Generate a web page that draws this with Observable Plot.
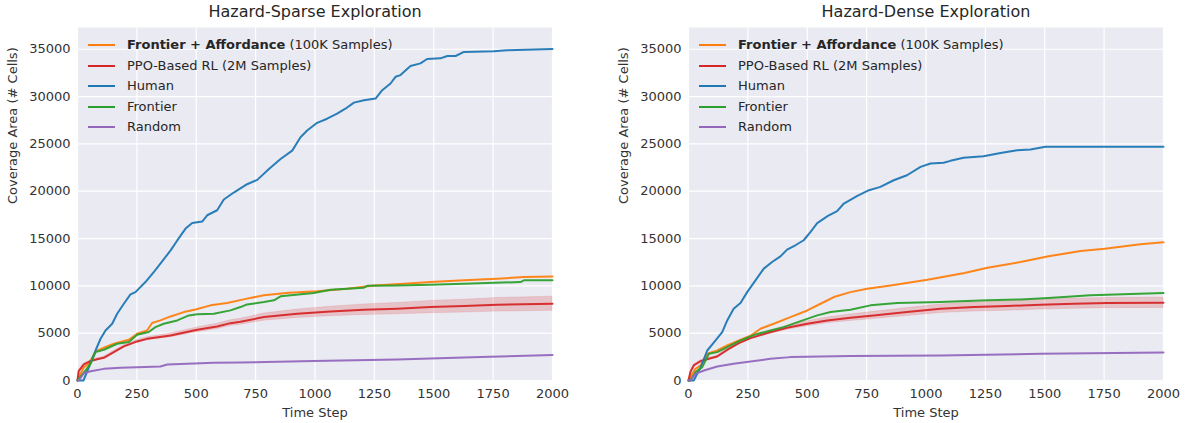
<!DOCTYPE html>
<html>
<head>
<meta charset="utf-8">
<script src="https://cdn.jsdelivr.net/npm/d3@7"></script>
<script src="https://cdn.jsdelivr.net/npm/@observablehq/plot@0.6"></script>
<style>
  body { margin: 0; background: white; font-family: "DejaVu Sans", sans-serif; }
  #wrap { display: flex; width: 1186px; height: 423px; }
  .panel { position: relative; }
  .legend { position: absolute; font-size: 13px; color: #262626; }
  .legend .row { position: absolute; white-space: nowrap; height: 20px; line-height: 20px; }
  .legend .sw { position: absolute; top: 9px; width: 27px; height: 2px; }
  .legend .tx { position: absolute; left: 39px; }
</style>
</head>
<body>
<div id="wrap"></div>
<script>
// ---------- data (time step, coverage cells) ----------
const titles = ["Hazard-Sparse Exploration", "Hazard-Dense Exploration"];
const seriesNames = ["Frontier + Affordance", "PPO-Based RL", "Human", "Frontier", "Random"];
const seriesColors = ["#ff7f0e", "#d62728", "#1f77b4", "#2ca02c", "#9467bd"];
const xTicks = [0, 250, 500, 750, 1000, 1250, 1500, 1750, 2000];
const yTicks = [0, 5000, 10000, 15000, 20000, 25000, 30000, 35000];

// Hazard-Sparse
const sparseAfford = [[0,0],[5,350],[27,1400],[48,1770],[76,3070],[111,3460],[153,3880],[216,4300],[251,4940],[293,5290],[314,6070],[349,6350],[392,6770],[448,7230],[497,7510],[560,7940],[630,8180],[714,8650],[785,9000],[890,9280],[1009,9420],[1135,9700],[1248,10050],[1374,10230],[1486,10400],[1627,10580],[1767,10760],[1879,10930],[2000,11000]];
const sparsePPO = [[0,0],[5,1000],[27,1700],[55,2050],[83,2250],[111,2400],[153,3000],[195,3600],[251,4130],[293,4400],[392,4760],[504,5360],[588,5710],[644,6060],[686,6200],[785,6700],[925,7050],[1065,7300],[1206,7480],[1346,7590],[1486,7760],[1627,7860],[1767,8000],[2000,8110]];
const sparsePPOSpread = [0,80,100,100,100,110,120,130,150,160,200,250,280,300,320,380,440,500,560,600,650,680,720,750];
const sparseHuman = [[0,0],[25,0],[48,1400],[76,3170],[97,4410],[118,5290],[146,6000],[167,7060],[195,8110],[223,9100],[244,9340],[286,10400],[321,11460],[349,12340],[392,13750],[420,14800],[455,16050],[483,16640],[525,16800],[546,17460],[588,17990],[616,19120],[658,19860],[714,20740],[757,21200],[806,22340],[855,23400],[904,24290],[939,25710],[967,26420],[1009,27230],[1051,27660],[1093,28190],[1128,28720],[1164,29360],[1206,29610],[1255,29790],[1283,30670],[1318,31380],[1339,32090],[1360,32270],[1402,33230],[1444,33510],[1472,33970],[1528,34040],[1557,34290],[1592,34290],[1627,34720],[1753,34790],[1809,34890],[2000,35030]];
const sparseFrontier = [[0,0],[5,180],[34,1060],[55,1770],[76,3000],[111,3250],[167,3880],[216,4060],[251,4830],[300,5120],[328,5640],[363,6000],[420,6350],[469,6880],[504,6990],[574,7060],[644,7410],[686,7760],[714,8040],[785,8290],[827,8470],[855,8890],[995,9240],[1065,9600],[1206,9810],[1220,10000],[1346,10050],[1486,10130],[1627,10230],[1865,10400],[1880,10580],[2000,10600]];
const sparseRandom = [[0,0],[5,0],[27,770],[55,980],[111,1230],[181,1340],[251,1410],[349,1480],[378,1690],[462,1760],[574,1870],[686,1910],[995,2050],[1346,2220],[1697,2470],[2000,2700]];

// Hazard-Dense
const denseAfford = [[0,0],[8,350],[29,1230],[51,1590],[79,2820],[121,3170],[163,3700],[212,4230],[261,4730],[303,5470],[359,6000],[429,6700],[500,7400],[556,8110],[612,8820],[682,9340],[752,9700],[851,10050],[1006,10650],[1162,11360],[1259,11920],[1398,12520],[1516,13120],[1651,13680],[1752,13930],[1903,14390],[2000,14600]];
const densePPO = [[0,0],[8,880],[22,1590],[51,2050],[86,2290],[121,2540],[163,3240],[212,3950],[261,4480],[331,5010],[415,5570],[500,6000],[584,6350],[682,6630],[780,6880],[920,7230],[1061,7580],[1201,7760],[1342,7870],[1482,8010],[1623,8110],[1763,8180],[2000,8220]];
const densePPOSpread = [0,60,80,100,100,110,120,140,160,180,220,260,300,340,380,420,450,480,500,520,530,540,550];
const denseHuman = [[0,0],[22,0],[51,1400],[79,3170],[114,4230],[142,5110],[163,6350],[190,7580],[219,8180],[247,9340],[282,10580],[317,11820],[352,12520],[387,13120],[415,13830],[450,14290],[485,14820],[514,15700],[542,16630],[587,17400],[626,17900],[654,18700],[711,19500],[760,20110],[808,20460],[864,21160],[920,21690],[977,22570],[1019,22930],[1074,23000],[1103,23210],[1158,23530],[1242,23700],[1314,24050],[1384,24340],[1440,24410],[1503,24690],[2000,24690]];
const denseFrontier = [[0,0],[8,0],[29,880],[58,1410],[86,2820],[121,3000],[163,3520],[219,4230],[282,4870],[345,5290],[401,5640],[472,6280],[542,6880],[598,7230],[682,7480],[766,7940],[878,8180],[1061,8290],[1259,8470],[1398,8570],[1516,8710],[1693,9000],[2000,9240]];
const denseRandom = [[0,0],[8,0],[29,700],[65,1060],[121,1480],[190,1770],[261,2010],[345,2290],[429,2470],[556,2540],[682,2600],[1061,2650],[1482,2820],[2000,2960]];

// ---------- build ----------
const panels = [
  {afford: sparseAfford, ppo: sparsePPO, spread: sparsePPOSpread, human: sparseHuman, frontier: sparseFrontier, random: sparseRandom, marginLeft: 77, marginRight: 41},
  {afford: denseAfford, ppo: densePPO, spread: densePPOSpread, human: denseHuman, frontier: denseFrontier, random: denseRandom, marginLeft: 95, marginRight: 23}
];

const wrap = document.getElementById("wrap");
const W = 593, H = 423, MT = 27, MB = 43;

panels.forEach((p, i) => {
  const band = p.ppo.map(([t, v], k) => ({t, lo: Math.max(0, v - p.spread[k]), hi: v + p.spread[k]}));
  const lines = [p.afford, p.ppo, p.human, p.frontier, p.random];
  const chart = Plot.plot({
    width: W, height: H,
    marginLeft: p.marginLeft, marginRight: p.marginRight, marginTop: MT, marginBottom: MB,
    style: {background: "white", fontFamily: "DejaVu Sans", fontSize: "13px", color: "#333", overflow: "visible"},
    x: {domain: [0, 2000]},
    y: {domain: [0, 37300]},
    marks: [
      Plot.frame({fill: "#eaeaf2", stroke: null}),
      Plot.gridX(xTicks, {stroke: "white", strokeOpacity: 1, strokeWidth: 1.2}),
      Plot.gridY(yTicks, {stroke: "white", strokeOpacity: 1, strokeWidth: 1.2}),
      Plot.axisX({ticks: xTicks, tickSize: 0, tickPadding: 8, tickFormat: d => String(d), label: null, fontSize: 13}),
      Plot.axisY({ticks: yTicks, tickSize: 0, tickPadding: 7, tickFormat: d => String(d), label: null, fontSize: 13}),
      Plot.areaY(band, {x: "t", y1: "lo", y2: "hi", fill: "#d62728", fillOpacity: 0.2, stroke: "#d62728", strokeOpacity: 0.12}),
      ...lines.map((s, k) => Plot.line(s, {x: d => d[0], y: d => d[1], stroke: seriesColors[k], strokeWidth: 2, strokeOpacity: 0.95})),
      Plot.text([titles[i]], {frameAnchor: "top", dy: -16, fontSize: 16, fill: "#262626", lineAnchor: "middle"}),
      Plot.text(["Time Step"], {frameAnchor: "bottom", dy: 32, fontSize: 13, fill: "#333", lineAnchor: "middle"}),
      Plot.text(["Coverage Area (# Cells)"], {frameAnchor: "left", dx: -65, rotate: -90, fontSize: 13, fill: "#333", lineAnchor: "middle"})
    ]
  });
  const panel = document.createElement("div");
  panel.className = "panel";
  panel.style.width = W + "px";
  panel.appendChild(chart);

  const legend = document.createElement("div");
  legend.className = "legend";
  legend.style.left = (p.marginLeft + 11) + "px";
  legend.style.top = "35px";
  const labels = [
    "<b>Frontier + Affordance</b> (100K Samples)",
    "PPO-Based RL (2M Samples)",
    "Human", "Frontier", "Random"
  ];
  labels.forEach((lab, k) => {
    const row = document.createElement("div");
    row.className = "row";
    row.style.top = (k * 20.6) + "px";
    row.innerHTML = `<span class="sw" style="background:${seriesColors[k]}"></span><span class="tx">${lab}</span>`;
    legend.appendChild(row);
  });
  panel.appendChild(legend);
  wrap.appendChild(panel);
});
</script>
</body>
</html>
